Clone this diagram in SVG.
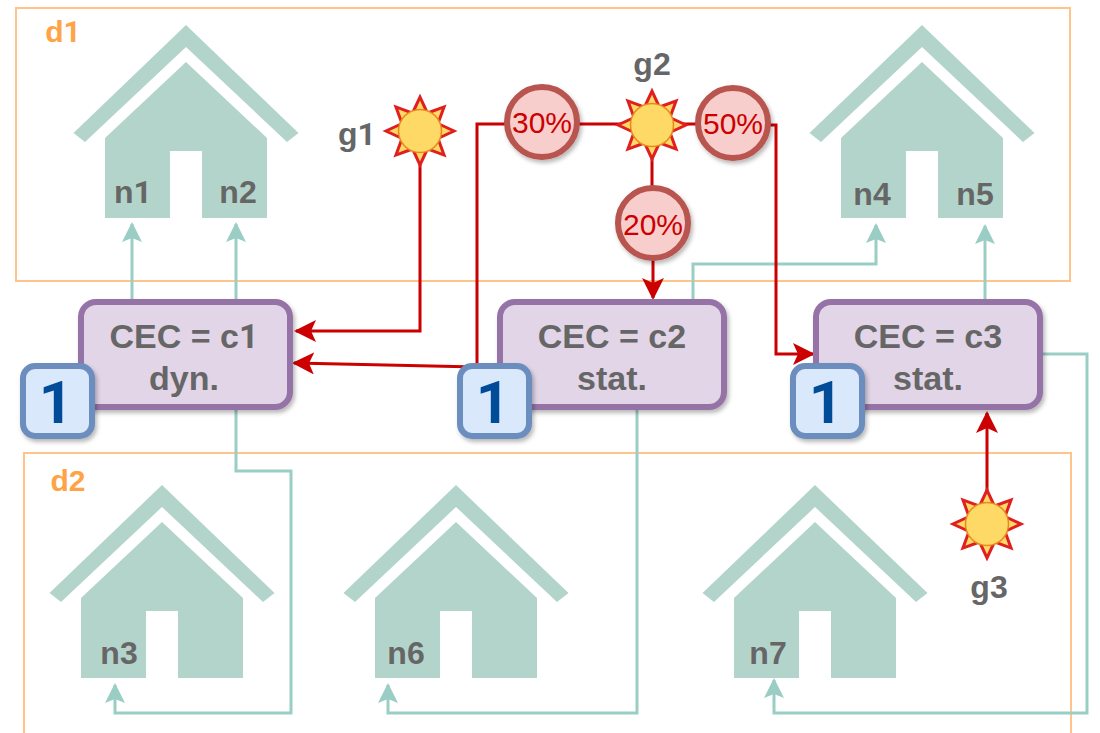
<svg xmlns="http://www.w3.org/2000/svg" width="1100" height="733" viewBox="0 0 1100 733">
<style>
text{font-family:"Liberation Sans",Arial,sans-serif;text-anchor:middle}
.lbl{font-size:32px;font-weight:bold;fill:#666666}
.cect{font-size:34px;font-weight:bold;fill:#666666}
.dom{font-size:30px;font-weight:bold;fill:#FFA347}
.domain{fill:none;stroke:#FFC48A;stroke-width:2}
.house{fill:#B3D4CB}
.cec{fill:#E1D5E7;stroke:#9673A6;stroke-width:6;filter:url(#sh)}
.badge{fill:#DAE8FC;stroke:#6C8EBF;stroke-width:6;filter:url(#sh)}
.one{font-family:Roboto,"Liberation Sans",sans-serif;font-size:60px;font-weight:bold;fill:#004C99}
.d{font-family:Roboto,"Liberation Sans",sans-serif}
.pct{fill:#F8CECC;stroke:#B85450;stroke-width:6;filter:url(#sh)}
.pctt{font-size:30px;fill:#CC0000}
.t{fill:none;stroke:#9ACDC3;stroke-width:3}
.r{fill:none;stroke:#CC0000;stroke-width:3}
.ray{fill:#FFD966;stroke:#E02020;stroke-width:3;stroke-linejoin:miter}
.core{fill:#FFD966;stroke:#E8891E;stroke-width:1.500}
</style>
<defs>
<filter id="sh" x="-10%" y="-10%" width="125%" height="125%"><feDropShadow dx="2" dy="3" stdDeviation="2" flood-color="#000" flood-opacity="0.28"/></filter>
<marker id="mr" markerUnits="userSpaceOnUse" markerWidth="24" markerHeight="22" refX="20" refY="11" orient="auto"><path d="M0 0L22 11L0 22L5 11Z" fill="#CC0000"/></marker>
<marker id="mt" markerUnits="userSpaceOnUse" markerWidth="24" markerHeight="22" refX="18" refY="11" orient="auto"><path d="M0 1L20 11L0 21L4 11Z" fill="#9ACDC3"/></marker>
<symbol id="home" overflow="visible" width="1" height="1">
<path class="house" d="M0 0L112.500 108L101 117L0 22L-101 117L-112.500 108Z"/>
<path class="house" d="M0 37L81 113V193H16V126H-16V193H-81V113Z"/>
</symbol>
<g id="sun">
<g id="r4"><path id="ray" class="ray" d="M-6.500 -20L0 -34L6.500 -20Z"/>
<use href="#ray" transform="rotate(90)"/><use href="#ray" transform="rotate(180)"/><use href="#ray" transform="rotate(270)"/></g>
<use href="#r4" transform="rotate(45)"/>
<circle class="core" r="21.500"/>
</g>
</defs>

<g id="domains">
<g id="d1"><rect class="domain" x="16" y="8" width="1054" height="273"/><text class="dom" x="63" y="42">d<tspan class="d">1</tspan></text></g>
<g id="d2"><path class="domain" d="M24 733V453H1071V733"/><text class="dom" x="68" y="491">d2</text></g>
</g>

<g id="houses">
<g id="n1n2"><use href="#home" x="186" y="25"/><text class="lbl" x="133" y="203">n<tspan class="d">1</tspan></text><text class="lbl" x="238" y="203">n2</text></g>
<g id="n4n5"><use href="#home" x="922" y="25"/><text class="lbl" x="872" y="205">n4</text><text class="lbl" x="975" y="205">n5</text></g>
<g id="n3"><use href="#home" x="162" y="485"/><text class="lbl" x="119" y="664">n3</text></g>
<g id="n6"><use href="#home" x="456" y="485"/><text class="lbl" x="406" y="664">n6</text></g>
<g id="n7"><use href="#home" x="815" y="485"/><text class="lbl" x="768" y="664">n7</text></g>
</g>

<g id="connectors">
<path class="t" d="M132 300V224" marker-end="url(#mt)"/>
<path class="t" d="M236 300V224" marker-end="url(#mt)"/>
<path class="t" d="M693 300V264H876V225" marker-end="url(#mt)"/>
<path class="t" d="M985 300V226" marker-end="url(#mt)"/>
<path class="t" d="M236 407V471H291V713H115V685" marker-end="url(#mt)"/>
<path class="t" d="M637 407V713H388V685" marker-end="url(#mt)"/>
<path class="t" d="M1040 354H1087V713H774V680" marker-end="url(#mt)"/>
<path class="r" d="M420 150V331H296" marker-end="url(#mr)"/>
<path class="r" d="M477 367L294 363" marker-end="url(#mr)"/>
<path class="r" d="M477 367V124H510"/>
<path class="r" d="M575 124H622"/>
<path class="r" d="M682 124H700"/>
<path class="r" d="M766 125H776V354H813" marker-end="url(#mr)"/>
<path class="r" d="M652 155V190"/>
<path class="r" d="M653 258V298" marker-end="url(#mr)"/>
<path class="r" d="M987 492V413" marker-end="url(#mr)"/>
</g>

<g id="c1"><rect class="cec" x="81" y="302" width="209" height="105" rx="15"/><text class="cect" x="184" y="348">CEC = c<tspan class="d">1</tspan></text><text class="cect" x="184" y="390">dyn.</text></g>
<g id="c2"><rect class="cec" x="500" y="302" width="224" height="105" rx="15"/><text class="cect" x="612" y="348">CEC = c2</text><text class="cect" x="612" y="390">stat.</text></g>
<g id="c3"><rect class="cec" x="816" y="302" width="224" height="105" rx="15"/><text class="cect" x="928" y="348">CEC = c3</text><text class="cect" x="928" y="390">stat.</text></g>
<g id="b1"><rect class="badge" x="23" y="366" width="69" height="70" rx="12"/><text class="one" x="56" y="423">1</text></g>
<g id="b2"><rect class="badge" x="460" y="366" width="69" height="70" rx="12"/><text class="one" x="493" y="423">1</text></g>
<g id="b3"><rect class="badge" x="793" y="366" width="69" height="70" rx="12"/><text class="one" x="826" y="423">1</text></g>

<g id="g1"><use href="#sun" transform="translate(420 131)"/><text class="lbl" x="357" y="145">g<tspan class="d">1</tspan></text></g>
<g id="g2"><use href="#sun" transform="translate(652 125)"/><text class="lbl" x="652" y="75">g2</text></g>
<g id="g3"><use href="#sun" transform="translate(987 524)"/><text class="lbl" x="989" y="598">g3</text></g>

<g id="p30"><circle class="pct" cx="542" cy="122" r="35"/><text class="pctt" x="542" y="133">30%</text></g>
<g id="p50"><circle class="pct" cx="733" cy="123" r="35"/><text class="pctt" x="733" y="134">50%</text></g>
<g id="p20"><circle class="pct" cx="653" cy="223" r="35"/><text class="pctt" x="653" y="235">20%</text></g>
</svg>
